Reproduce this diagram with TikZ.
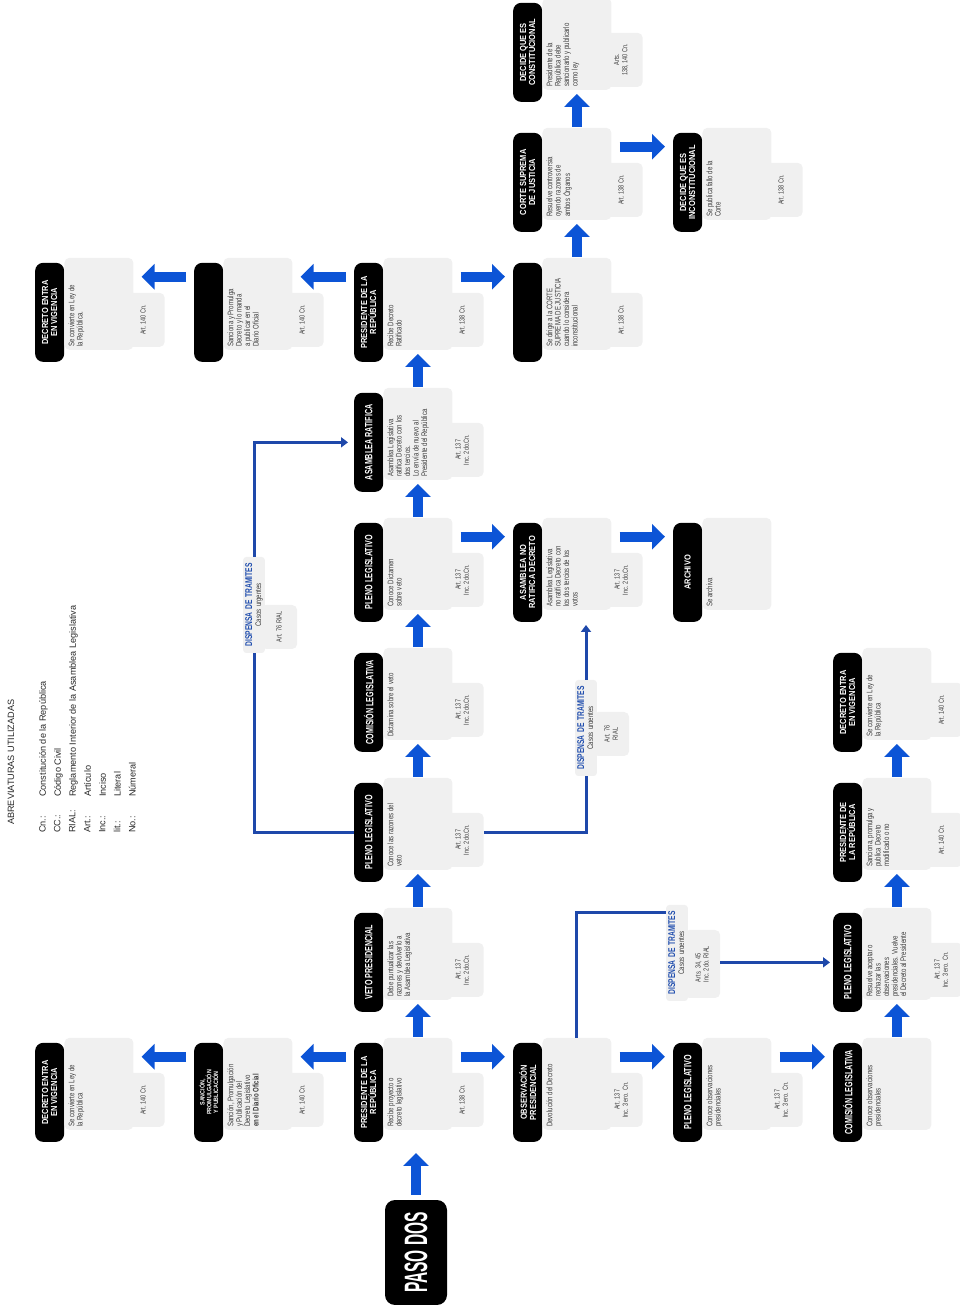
\documentclass[tikz,border=0pt]{standalone}
\usepackage{fontspec}
\setmainfont{Liberation Sans}
\newfontfamily\titfont[FakeStretch=0.68]{Liberation Sans}
\newfontfamily\titdosfont[FakeStretch=0.85]{Liberation Sans}
\newfontfamily\cuerfont[FakeStretch=0.75]{Liberation Sans}
\newfontfamily\pasofont[FakeStretch=0.48]{Liberation Sans}
\usepackage{tikz}
\usetikzlibrary{arrows.meta,calc}
\definecolor{azul}{RGB}{12,84,214}
\definecolor{azull}{RGB}{30,72,170}
\definecolor{azult}{RGB}{35,80,175}
\definecolor{gris}{RGB}{240,240,240}
\definecolor{texto}{RGB}{60,60,60}
\definecolor{abrev}{RGB}{40,40,40}

\tikzset{
  titulo/.style={anchor=north west, fill=black, text=white, rounded corners=0.4cm,
    minimum width=4.95cm, minimum height=1.45cm, inner sep=1pt, align=center,
    font=\titfont\bfseries\fontsize{15}{16}\selectfont},
  titulodos/.style={titulo, font=\titdosfont\bfseries\fontsize{12.5}{13}\selectfont},
  cuerpo/.style={anchor=north west, fill=gris, rounded corners=0.25cm,
    inner xsep=0.15cm, inner ysep=0.2cm, text=texto,
    font=\cuerfont\fontsize{11.5}{12}\selectfont,
    execute at begin node={\begin{minipage}[t][3.05cm][t]{4.3cm}\raggedright},
    execute at end node={\end{minipage}}},
  art/.style={anchor=north west, fill=gris, rounded corners=0.25cm,
    minimum width=2.7cm, minimum height=2.15cm, inner sep=1pt, align=center,
    text=texto, font=\cuerfont\fontsize{10.5}{11.5}\selectfont},
  artd/.style={art, minimum width=2.2cm, minimum height=1.8cm},
  flecha/.style={azul, line width=0.5cm, shorten <=0.4cm, shorten >=0.4cm,
    -{Triangle[width=1.25cm,length=0.65cm]}},
  flechah/.style={flecha, shorten <=0.05cm, shorten >=0.2cm},
  linea/.style={azull, line width=0.15cm},
  lineaf/.style={linea, shorten >=0.15cm, -{Triangle[width=0.5cm,length=0.35cm]}},
  dispensa/.style={fill=gris, rounded corners=0.15cm, text width=4.6cm, align=center,
    inner sep=0.1cm, text=texto, font=\cuerfont\fontsize{11.5}{13}\selectfont},
  paso/.style={fill=black, text=white, rounded corners=0.5cm, minimum width=5.25cm,
    minimum height=3.1cm, font=\pasofont\bfseries\fontsize{46}{46}\selectfont}
}

\begin{document}
\begin{tikzpicture}[x=0.05cm, y=0.05cm, rotate=90, transform shape]
	\useasboundingbox (0,0) rectangle (1310,-960);

	% abreviaturas
	\node[anchor=west, inner sep=0, text=abrev, font=\fontsize{13}{14}\selectfont] (abtit) at (485,-11) {ABREVIATURAS UTILIZADAS};
	\node[anchor=north west, inner sep=0, align=left, text=abrev, font=\fontsize{13}{21.3}\selectfont] (abcl) at (477,-39) {Cn.:\\CC.:\\RIAL:\\Art.:\\Inc.:\\lit.:\\No.:};
	\node[anchor=north west, inner sep=0, align=left, text=abrev, font=\fontsize{13}{21.3}\selectfont] (abdef) at (513,-39) {Constitución de la República\\Código Civil\\Reglamento Interior de la Asamblea Legislativa\\Artículo\\Inciso\\Literal\\Númeral};

	% paso dos
	\node[paso] (paso) at (57.5,-416) {PASO DOS};

	% fila A
	\node[titulodos] (v0) at (168,-35) {DECRETO ENTRA\\EN VIGENCIA};
	\node[cuerpo] (v0-b) at ($(v0.south west)+(12,0)$) {Se convierte en Ley de\\la República};
	\node[art] (v0-a) at ($(v0-b.south west)+(3,12)$) {Art. 140 Cn.};
	\node[titulodos] (v6) at (948,-35) {DECRETO ENTRA\\EN VIGENCIA};
	\node[cuerpo] (v6-b) at ($(v6.south west)+(12,0)$) {Se convierte en Ley de\\la República.};
	\node[art] (v6-a) at ($(v6-b.south west)+(3,12)$) {Art. 140 Cn.};

	% fila B
	\node[titulo, font=\titdosfont\bfseries\fontsize{9}{9.5}\selectfont] (s0) at (168,-194) {SANCIÓN,\\PROMULGACIÓN\\Y PUBLICACIÓN};
	\node[cuerpo] (s0-b) at ($(s0.south west)+(12,0)$) {Sanción, Promulgación\\y Publicación del\\Decreto Legislativo\\\textbf{en el Diario Oficial}};
	\node[art] (s0-a) at ($(s0-b.south west)+(3,12)$) {Art. 140 Cn.};
	\node[titulo] (s6) at (948,-194) {};
	\node[cuerpo] (s6-b) at ($(s6.south west)+(12,0)$) {Sanciona y Promulga\\Decreto y lo manda\\a publicar en el\\Diario Oficial};
	\node[art] (s6-a) at ($(s6-b.south west)+(3,12)$) {Art. 140 Cn.};

	% fila C
	\node[titulodos] (p0) at (168,-354) {PRESIDENTE DE LA\\REPÚBLICA};
	\node[cuerpo] (p0-b) at ($(p0.south west)+(12,0)$) {Recibe proyecto o\\decreto legislativo};
	\node[art] (p0-a) at ($(p0-b.south west)+(3,12)$) {Art. 138 Cn.};
	\node[titulo] (p1) at (298,-354) {VETO PRESIDENCIAL};
	\node[cuerpo] (p1-b) at ($(p1.south west)+(12,0)$) {Debe puntualizar las\\razones y devolverlo a\\la Asamblea Legislativa};
	\node[art] (p1-a) at ($(p1-b.south west)+(3,12)$) {Art. 137\\Inc. 2do.Cn.};
	\node[titulo] (p2) at (428,-354) {PLENO LEGISLATIVO};
	\node[cuerpo] (p2-b) at ($(p2.south west)+(12,0)$) {Conoce las razones del\\veto};
	\node[art] (p2-a) at ($(p2-b.south west)+(3,12)$) {Art. 137\\Inc. 2do.Cn.};
	\node[titulo] (p3) at (558,-354) {COMISIÓN LEGISLATIVA};
	\node[cuerpo] (p3-b) at ($(p3.south west)+(12,0)$) {Dictamina sobre el veto};
	\node[art] (p3-a) at ($(p3-b.south west)+(3,12)$) {Art. 137\\Inc. 2do.Cn.};
	\node[titulo] (p4) at (688,-354) {PLENO LEGISLATIVO};
	\node[cuerpo] (p4-b) at ($(p4.south west)+(12,0)$) {Conoce Dictamen\\sobre veto};
	\node[art] (p4-a) at ($(p4-b.south west)+(3,12)$) {Art. 137\\Inc. 2do.Cn.};
	\node[titulo] (p5) at (818,-354) {ASAMBLEA RATIFICA};
	\node[cuerpo] (p5-b) at ($(p5.south west)+(12,0)$) {Asamblea Legislativa\\ratifica Decreto con los\\dos tercios.\\Lo envía de nuevo al\\Presidente del República};
	\node[art] (p5-a) at ($(p5-b.south west)+(3,12)$) {Art. 137\\Inc. 2do.Cn.};
	\node[titulodos] (p6) at (948,-354) {PRESIDENTE DE LA\\REPÚBLICA};
	\node[cuerpo] (p6-b) at ($(p6.south west)+(12,0)$) {Recibe Decreto\\Ratificado};
	\node[art] (p6-a) at ($(p6-b.south west)+(3,12)$) {Art. 138 Cn.};

	% fila D
	\node[titulodos] (o0) at (168,-513) {OBSERVACIÓN\\PRESIDENCIAL};
	\node[cuerpo] (o0-b) at ($(o0.south west)+(12,0)$) {Devolución del Decreto};
	\node[art] (o0-a) at ($(o0-b.south west)+(3,12)$) {Art. 137\\Inc. 3 ero. Cn.};
	\node[titulodos] (n4) at (688,-513) {ASAMBLEA NO\\RATIFICA DECRETO};
	\node[cuerpo] (n4-b) at ($(n4.south west)+(12,0)$) {Asamblea Legislativa\\no ratifica Decreto con\\los dos tercios de los\\votos};
	\node[art] (n4-a) at ($(n4-b.south west)+(3,12)$) {Art. 137\\Inc. 2do.Cn.};
	\node[titulo] (c6) at (948,-513) {};
	\node[cuerpo] (c6-b) at ($(c6.south west)+(12,0)$) {Se dirige a la CORTE\\SUPREMA DE JUSTICIA\\cuando lo considera\\inconstitucional};
	\node[art] (c6-a) at ($(c6-b.south west)+(3,12)$) {Art. 138 Cn.};
	\node[titulodos] (c7) at (1078,-513) {CORTE SUPREMA\\DE JUSTICIA};
	\node[cuerpo] (c7-b) at ($(c7.south west)+(12,0)$) {Resuelve controversia\\oyendo razones de\\ambos Órganos};
	\node[art] (c7-a) at ($(c7-b.south west)+(3,12)$) {Art. 138 Cn.};
	\node[titulodos] (c8) at (1208,-513) {DECIDE QUE ES\\CONSTITUCIONAL};
	\node[cuerpo] (c8-b) at ($(c8.south west)+(12,0)$) {Presidente de la\\República debe\\sancionarlo y publicarlo\\como ley};
	\node[art] (c8-a) at ($(c8-b.south west)+(3,12)$) {Arts.\\138, 140 Cn.};

	% fila E
	\node[titulo] (e0) at (168,-673) {PLENO LEGISLATIVO};
	\node[cuerpo] (e0-b) at ($(e0.south west)+(12,0)$) {Conoce observaciones\\presidenciales};
	\node[art] (e0-a) at ($(e0-b.south west)+(3,12)$) {Art. 137\\Inc. 3 ero. Cn.};
	\node[titulodos] (e4) at (688,-673) {ARCHIVO};
	\node[cuerpo] (e4-b) at ($(e4.south west)+(12,0)$) {Se archiva};
	\node[titulodos] (e7) at (1078,-673) {DECIDE QUE ES\\INCONSTITUCIONAL};
	\node[cuerpo] (e7-b) at ($(e7.south west)+(12,0)$) {Se publica fallo de la\\Corte};
	\node[art] (e7-a) at ($(e7-b.south west)+(3,12)$) {Art. 138 Cn.};

	% fila F
	\node[titulo] (f0) at (168,-833) {COMISIÓN LEGISLATIVA};
	\node[cuerpo] (f0-b) at ($(f0.south west)+(12,0)$) {Conoce observaciones\\presidenciales};
	\node[titulo] (f1) at (298,-833) {PLENO LEGISLATIVO};
	\node[cuerpo] (f1-b) at ($(f1.south west)+(12,0)$) {Resuelve aceptar o\\rechazar las\\observaciones\\presidenciales. Vuelve\\el Decreto al Presidente};
	\node[art] (f1-a) at ($(f1-b.south west)+(3,12)$) {Art. 137\\Inc. 3 ero. Cn.};
	\node[titulodos] (f2) at (428,-833) {PRESIDENTE DE\\LA REPÚBLICA};
	\node[cuerpo] (f2-b) at ($(f2.south west)+(12,0)$) {Sanciona, promulga y\\publica Decreto\\modificado o no};
	\node[art] (f2-a) at ($(f2-b.south west)+(3,12)$) {Art. 140 Cn.};
	\node[titulodos] (f3) at (558,-833) {DECRETO ENTRA\\EN VIGENCIA};
	\node[cuerpo] (f3-b) at ($(f3.south west)+(12,0)$) {Se convierte en Ley de\\la República};
	\node[art] (f3-a) at ($(f3-b.south west)+(3,12)$) {Art. 140 Cn.};

	% dispensa de tramites
	\node[dispensa] (d1) at (582,-586) {{\color{azult}\titfont\bfseries\fontsize{14}{15}\selectfont DISPENSA DE TRAMITES}\\Casos urgentes};
	\node[artd] (d1-a) at ($(d1.south west)+(20,4)$) {Art. 76\\RIAL};
	\node[dispensa] (d2) at (705,-254) {{\color{azult}\titfont\bfseries\fontsize{14}{15}\selectfont DISPENSA DE TRAMITES}\\Casos urgentes};
	\node[artd] (d2-a) at ($(d2.south west)+(4,4)$) {Art. 76 RIAL};
	\node[dispensa] (d3) at (357,-677) {{\color{azult}\titfont\bfseries\fontsize{14}{15}\selectfont DISPENSA DE TRAMITES}\\Casos urgentes};
	\node[artd, minimum width=3.4cm, align=left] (d3-a) at ($(d3.south west)+(3,4)$) {Arts. 34, 45\\Inc. 2do. RIAL};

	% flechas
	\draw[flechah, shorten <=0.25cm, shorten >=0.55cm] (paso.east) -- (paso.east -| p0.west);
	\draw[flechah] (p0-b.east) -- (p1-b.west);
	\draw[flechah] (p1-b.east) -- (p2-b.west);
	\draw[flechah] (p2-b.east) -- (p3-b.west);
	\draw[flechah] (p3-b.east) -- (p4-b.west);
	\draw[flechah] (p4-b.east) -- (p5-b.west);
	\draw[flechah] (p5-b.east) -- (p6-b.west);
	\draw[flechah] (c6-b.east) -- (c7-b.west);
	\draw[flechah] (c7-b.east) -- (c8-b.west);
	\draw[flechah] (f0-b.east) -- (f1-b.west);
	\draw[flechah] (f1-b.east) -- (f2-b.west);
	\draw[flechah] (f2-b.east) -- (f3-b.west);
	\draw[flecha] ($(p0.north east)+(-14,0)$) -- ($(p0.north east |- s0-b.south)+(-14,0)$);
	\draw[flecha] ($(s0.north east)+(-14,0)$) -- ($(s0.north east |- v0-b.south)+(-14,0)$);
	\draw[flecha] ($(p6.north east)+(-14,0)$) -- ($(p6.north east |- s6-b.south)+(-14,0)$);
	\draw[flecha] ($(s6.north east)+(-14,0)$) -- ($(s6.north east |- v6-b.south)+(-14,0)$);
	\draw[flecha] ($(p0.north east |- p0-b.south)+(-14,0)$) -- ($(o0.north east)+(-14,0)$);
	\draw[flecha] ($(o0.north east |- o0-b.south)+(-14,0)$) -- ($(e0.north east)+(-14,0)$);
	\draw[flecha] ($(e0.north east |- e0-b.south)+(-14,0)$) -- ($(f0.north east)+(-14,0)$);
	\draw[flecha] ($(p4.north east |- p4-b.south)+(-14,0)$) -- ($(n4.north east)+(-14,0)$);
	\draw[flecha] ($(n4.north east |- n4-b.south)+(-14,0)$) -- ($(e4.north east)+(-14,0)$);
	\draw[flecha] ($(p6.north east |- p6-b.south)+(-14,0)$) -- ($(c6.north east)+(-14,0)$);
	\draw[flecha] ($(c7.north east |- c7-b.south)+(-14,0)$) -- ($(e7.north east)+(-14,0)$);

	% lineas de dispensa
	\draw[linea] (p2-a.south -| p2.south) |- (d1.west);
	\draw[lineaf] (d1.east) -- (d1.east -| n4.west);
	\draw[linea] (p2.north) |- (d2.west);
	\draw[lineaf, shorten >=0.3cm] (d2.east) -| (p5.north);
	\draw[linea] (o0-b.east) -| ($(d3.north east)+(-8,0)$);
	\draw[lineaf] (d3-a.south -| f1.north) -- (f1.north);
\end{tikzpicture}
\end{document}
